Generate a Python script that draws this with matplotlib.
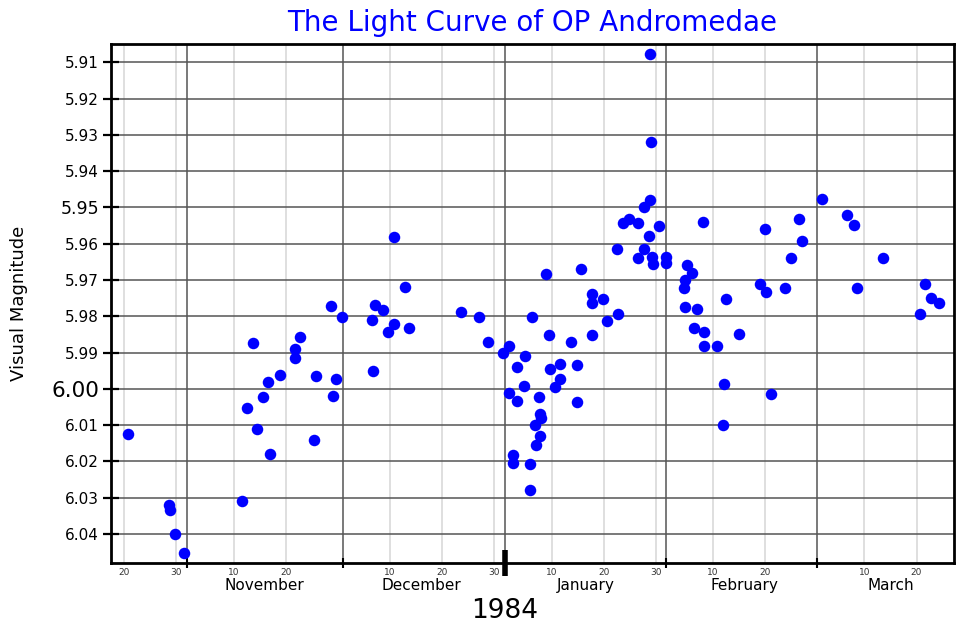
import matplotlib
matplotlib.use('Agg')
import matplotlib.pyplot as plt
import matplotlib.transforms as mtransforms

# days counted from 1984 Nov 1 (= 0), as laid out on the original axis
day = [-11.2, -3.3, -3.2, -2.2, -0.5, 10.6, 12.7, 11.5, 13.6, 14.6, 15.6, 16.0,
       17.9, 20.7, 20.7, 21.7,
       24.8, 24.5, 28.6, 28.0, 27.7, 29.8, 35.7, 35.5, 36.2, 37.7, 39.8, 38.7,
       39.8, 41.9, 42.7, 52.7, 56.0, 57.9,
       60.6, 61.9, 61.9, 63.4, 63.4, 62.6, 62.6, 65.0, 64.7, 65.8, 65.9, 66.2,
       66.8, 67.0, 67.6, 67.8, 67.9, 67.8, 68.9, 69.6, 69.8, 70.6, 71.7, 71.7,
       73.7, 74.8, 74.8, 75.6, 77.7, 77.7, 77.7, 79.9, 80.6, 82.7, 82.5, 83.8,
       84.9, 86.6, 86.6, 87.7, 87.8,
       88.9, 89.1, 88.8, 90.6, 88.6, 89.3, 89.4, 91.9, 92.0, 99.0, 96.0, 96.9,
       95.6, 95.5, 95.6, 97.9, 97.3, 99.3, 99.2, 101.7, 105.9, 103.5, 103.0,
       102.8, 112.0, 110.9, 109.9, 111.1,
       114.8, 115.9, 118.0, 117.5, 121.9, 126.7, 128.0, 128.6, 133.6, 141.7,
       142.8, 144.3, 140.7]
mag = [6.0123, 6.0321, 6.0334, 6.0401, 6.0453, 6.0308, 5.9873, 6.0054, 6.0111,
       6.0023, 5.9981, 6.0179, 5.9961, 5.9890, 5.9914, 5.9858,
       5.9965, 6.0141, 5.9973, 6.0020, 5.9771, 5.9801, 5.9952, 5.9811, 5.9768,
       5.9783, 5.9582, 5.9843, 5.9820, 5.9720, 5.9832, 5.9789, 5.9801, 5.9872,
       5.9901, 5.9881, 6.0012, 5.9940, 6.0033, 6.0181, 6.0203, 5.9909, 5.9991,
       6.0208, 6.0278, 5.9802, 6.0100, 6.0154, 6.0023, 6.0070, 6.0081, 6.0131,
       5.9683, 5.9852, 5.9945, 5.9995, 5.9932, 5.9972, 5.9872, 5.9934, 6.0036,
       5.9671, 5.9739, 5.9763, 5.9851, 5.9752, 5.9814, 5.9793, 5.9615, 5.9544,
       5.9532, 5.9542, 5.9639, 5.9499, 5.9615,
       5.9078, 5.9319, 5.9480, 5.9550, 5.9579, 5.9637, 5.9655, 5.9637, 5.9654,
       5.9539, 5.9659, 5.9681, 5.9700, 5.9721, 5.9774, 5.9780, 5.9832, 5.9844,
       5.9881, 5.9881, 5.9850, 5.9752, 5.9986, 6.0100, 6.0013, 5.9559, 5.9712,
       5.9732,
       5.9723, 5.9639, 5.9593, 5.9533, 5.9476, 5.9521, 5.9548, 5.9722, 5.9639,
       5.9712, 5.9749, 5.9763, 5.9794]

month_starts = [0, 30, 61, 92, 121]
month_names = ['November', 'December', 'January', 'February', 'March']
month_mid = [15, 45, 76.5, 107, 135]
minor_days = [-12, -2, 9, 19, 39, 49, 59, 70, 80, 90, 101, 111, 130, 140]
minor_labels = ['20', '30', '10', '20', '10', '20', '30', '10', '20', '30',
                '10', '20', '10', '20']
yticks = [5.91, 5.92, 5.93, 5.94, 5.95, 5.96, 5.97, 5.98, 5.99, 6.00,
          6.01, 6.02, 6.03, 6.04]

fig = plt.figure(figsize=(9.6, 6.24), dpi=100)
ax = fig.add_axes([0.1156, 0.0982, 0.8782, 0.8305])

ax.plot(day, mag, 'o', color='#0000ff', ms=8.3, mec='none', zorder=3)

ax.set_xlim(-14.5, 147.2)
ax.set_ylim(6.0479, 5.9051)

# y axis
ax.set_yticks(yticks, labels=['%.2f' % v for v in yticks])
for lab in ax.get_yticklabels():
    if lab.get_text() == '6.00':
        lab.set_fontsize(15.5)
    elif lab.get_text() == '5.95':
        lab.set_fontsize(12.5)
    else:
        lab.set_fontsize(11)
ax.tick_params(axis='y', direction='inout', length=11, width=1.6, pad=3)
ax.set_ylabel('Visual Magnitude', fontsize=13, labelpad=17)

# x axis: month boundaries are major, day 10/20/30 are minor
ax.set_xticks(month_starts, labels=['' for m in month_starts])
ax.set_xticks(minor_days, labels=minor_labels, minor=True)
ax.tick_params(axis='x', which='major', direction='inout', length=7, width=1.5)
ax.tick_params(axis='x', which='minor', length=0, pad=4, labelsize=6.5,
               labelcolor='#333333')
jan = ax.xaxis.get_major_ticks()[2]
jan.tick1line.set_markersize(19)
jan.tick1line.set_markeredgewidth(4)

trans = mtransforms.blended_transform_factory(ax.transData, ax.transAxes)
for x, name in zip(month_mid, month_names):
    ax.text(x, -0.043, name, transform=trans, ha='center', va='center',
            fontsize=11)
ax.text(61, -0.094, '1984', transform=trans, ha='center', va='center',
        fontsize=19)

ax.grid(which='major', axis='both', color='#555555', lw=1.1)
ax.grid(which='minor', axis='x', color='#dcdcdc', lw=1.3)
ax.set_axisbelow(True)

for s in ax.spines.values():
    s.set_linewidth(2)

ax.set_title('The Light Curve of OP Andromedae', color='#0000ff', fontsize=20,
             pad=10)

plt.savefig('out.png', dpi=100)
